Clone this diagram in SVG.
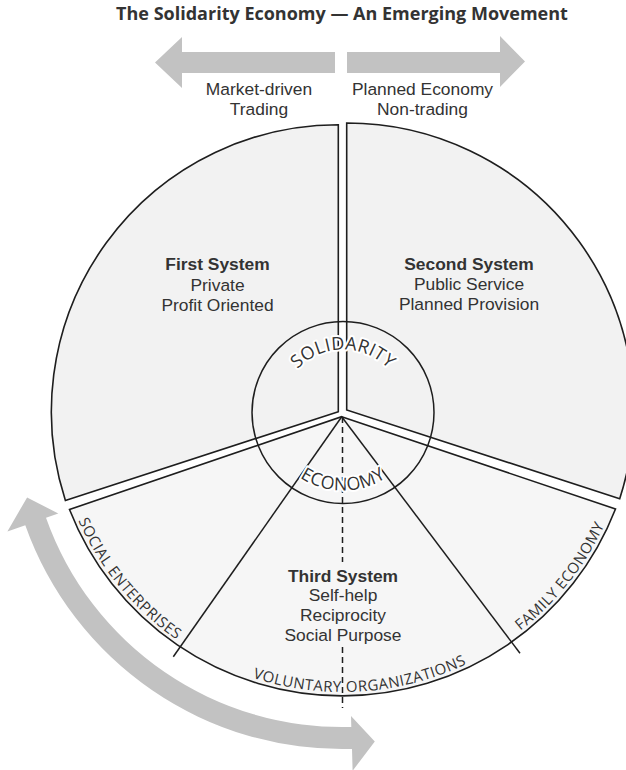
<svg xmlns="http://www.w3.org/2000/svg" width="626" height="770" viewBox="0 0 626 770">
<style>
.t{font-family:"Open Sans","Liberation Sans",sans-serif;fill:#333;}
.lbl{font-family:"Liberation Sans",Arial,sans-serif;font-size:17.4px;text-anchor:middle;fill:#333;}
.b{font-weight:bold;}
.sec{stroke:#1e1e1e;stroke-width:1.6;stroke-linejoin:miter;}
.ln{stroke:#1e1e1e;stroke-width:1.5;fill:none;}
.arr{fill:#c2c2c2;}
.arc{font-size:18px;letter-spacing:0.3px;paint-order:stroke;stroke:#fff;stroke-width:4px;stroke-linejoin:round;}
.rim{font-size:15px;letter-spacing:0.5px;}
</style>
<defs>
<path id="pSol" d="M 280 412.5 A 63 63 0 0 1 406 412.5"/>
<path id="pEco" d="M 265 412.5 A 78 78 0 0 0 421 412.5"/>
<path id="pSE" d="M 62.7 475.4 A 289 289 0 0 0 218.1 663.9"/>
<path id="pVO" d="M 214.4 662.1 A 289 289 0 0 0 502.8 643.4"/>
<path id="pFE" d="M 471.5 661.6 A 289 289 0 0 0 623.5 470.5"/>
</defs>
<rect width="626" height="770" fill="#fff"/>
<g id="title"><text class="t b" x="342" y="20" font-size="18" text-anchor="middle">The Solidarity Economy — An Emerging Movement</text></g>
<g id="arrow-market">
<path class="arr" d="M 155 62.5 L 182 37 L 182 52 L 335 52 L 335 73 L 182 73 L 182 88 Z"/>
<text class="lbl" x="259" y="95.3">Market-driven</text>
<text class="lbl" x="259" y="114.8">Trading</text>
</g>
<g id="arrow-planned">
<path class="arr" d="M 525 61.5 L 500 36 L 500 52 L 347 52 L 347 73 L 500 73 L 500 87 Z"/>
<text class="lbl" x="422.5" y="95.3">Planned Economy</text>
<text class="lbl" x="422.5" y="114.8">Non-trading</text>
</g>
<g id="first-system">
<path class="sec" fill="#f2f2f2" d="M 338.3 411.7 L 65.4 500.4 A 287 287 0 0 1 338.3 124.7 Z"/>
<text class="lbl b" x="217.5" y="270">First System</text>
<text class="lbl" x="217.5" y="290.5">Private</text>
<text class="lbl" x="217.5" y="311">Profit Oriented</text>
</g>
<g id="second-system">
<path class="sec" fill="#f2f2f2" d="M 346.7 410 L 346.7 123 A 287 287 0 0 1 619.7 498.7 Z"/>
<text class="lbl b" x="469" y="270">Second System</text>
<text class="lbl" x="469" y="290">Public Service</text>
<text class="lbl" x="469" y="310">Planned Provision</text>
</g>
<g id="third-system">
<path class="sec" fill="#f6f6f6" d="M 341.7 416.7 L 615.5 509 A 293 293 0 0 1 69.5 509.5 Z"/>
<text class="lbl b" x="343" y="581.5">Third System</text>
<text class="lbl" x="343" y="601.3">Self-help</text>
<text class="lbl" x="343" y="621.1">Reciprocity</text>
<text class="lbl" x="343" y="640.9">Social Purpose</text>
</g>
<g id="connectors">
<line class="ln" x1="341.7" y1="416.7" x2="173.3" y2="656.7"/>
<line class="ln" x1="341.7" y1="416.7" x2="520" y2="653.3"/>
<line class="ln" x1="342.5" y1="417" x2="342.5" y2="562" stroke-dasharray="6 4"/>
<line class="ln" x1="342.5" y1="647" x2="342.5" y2="708" stroke-dasharray="6 4"/>
</g>
<g id="solidarity-core">
<circle class="ln" cx="343" cy="412.5" r="91"/>
<text class="t arc"><textPath href="#pSol" startOffset="50%" text-anchor="middle">SOLIDARITY</textPath></text>
<text class="t arc"><textPath href="#pEco" startOffset="50%" text-anchor="middle">ECONOMY</textPath></text>
</g>
<g id="social-enterprises"><text class="t rim"><textPath href="#pSE" startOffset="50%" text-anchor="middle">SOCIAL ENTERPRISES</textPath></text></g>
<g id="voluntary-organizations"><text class="t rim"><textPath href="#pVO" startOffset="50%" text-anchor="middle">VOLUNTARY ORGANIZATIONS</textPath></text></g>
<g id="family-economy"><text class="t rim"><textPath href="#pFE" startOffset="50%" text-anchor="middle">FAMILY ECONOMY</textPath></text></g>
<g id="arrow-cycle">
<path class="arr" d="M 27.1 497.4 L 7.4 531.5 L 25.3 525.2 A 336 336 0 0 0 352 748.9 L 352.6 770.8 L 374.8 741.4 L 351 715.9 L 351.3 726.9 A 314 314 0 0 1 46 517.8 L 58.3 513.5 Z"/>
</g>
</svg>
